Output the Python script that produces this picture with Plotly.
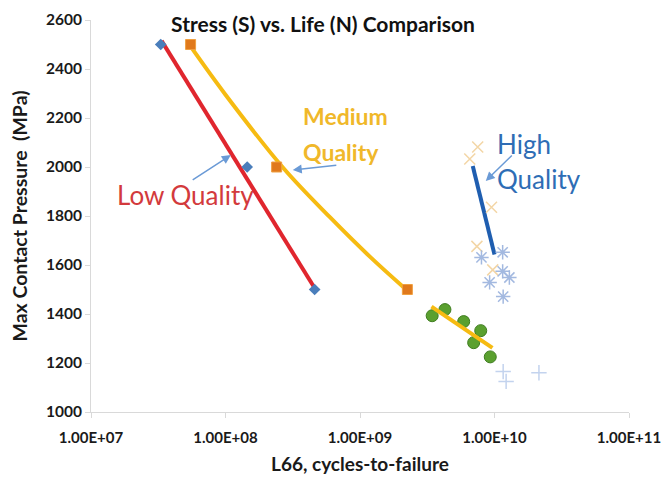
import numpy as np
import plotly.graph_objects as go

# ---------------- data ----------------
low_cycles = [3.3e7, 1.45e8, 4.6e8]
low_stress = [2500, 2000, 1500]
low_trend_cycles = [3.35e7, 4.55e8]
low_trend_stress = [2515, 1510]

med_cycles = [5.5e7, 2.4e8, 2.25e9]
med_stress = [2500, 2000, 1500]
med_trend_cycles = [5.5e7, 1.0e8, 2.7e8, 6.0e8, 1.2e9, 2.15e9]
med_trend_stress = [2492, 2295, 1995, 1794, 1631, 1505]

green_cycles = [3.44e9, 4.28e9, 5.9e9, 7.9e9, 7.0e9, 9.3e9]
green_stress = [1393, 1418, 1369, 1332, 1283, 1225]
green_trend_cycles = [3.4e9, 9.65e9]
green_trend_stress = [1430, 1262]

hq_x_cycles = [7.5e9, 6.55e9, 9.5e9, 7.4e9, 9.7e9]
hq_x_stress = [2082, 2033, 1836, 1676, 1580]
hq_ast_cycles = [1.15e10, 8.0e9, 1.15e10, 1.29e10, 9.2e9, 1.16e10]
hq_ast_stress = [1652, 1631, 1574, 1549, 1529, 1471]
hq_plus_cycles = [1.16e10, 1.22e10, 2.14e10]
hq_plus_stress = [1165, 1125, 1160]
high_trend_cycles = [6.89e9, 1.0e10]
high_trend_stress = [2004, 1643]

x_tick_vals = [1e7, 1e8, 1e9, 1e10, 1e11]
x_tick_text = ["1.00E+07", "1.00E+08", "1.00E+09", "1.00E+10", "1.00E+11"]
y_tick_vals = [1000, 1200, 1400, 1600, 1800, 2000, 2200, 2400, 2600]

FONT = "Lato"
fig = go.Figure()

# trend lines
fig.add_trace(go.Scatter(x=low_trend_cycles, y=low_trend_stress, mode="lines",
                         line=dict(color="#e0262e", width=4), hoverinfo="skip"))
fig.add_trace(go.Scatter(x=med_trend_cycles, y=med_trend_stress, mode="lines",
                         line=dict(color="#f6bb12", width=4, shape="spline"), hoverinfo="skip"))
fig.add_trace(go.Scatter(x=high_trend_cycles, y=high_trend_stress, mode="lines",
                         line=dict(color="#1f5eb0", width=4), hoverinfo="skip"))

# faint high-quality markers
fig.add_trace(go.Scatter(x=hq_x_cycles, y=hq_x_stress, mode="markers",
                         marker=dict(symbol="x-thin-open", size=11, color="#f3d6a6",
                                     line=dict(color="#f3d6a6", width=1.5))))
fig.add_trace(go.Scatter(x=hq_ast_cycles, y=hq_ast_stress, mode="markers",
                         marker=dict(symbol="asterisk-open", size=12, color="#a3b9e0",
                                     line=dict(color="#a3b9e0", width=1.5))))
fig.add_trace(go.Scatter(x=hq_plus_cycles, y=hq_plus_stress, mode="markers",
                         marker=dict(symbol="cross-thin-open", size=11, color="#c3d3ee",
                                     line=dict(color="#c3d3ee", width=1.5))))

# green points + trend
fig.add_trace(go.Scatter(x=green_cycles, y=green_stress, mode="markers",
                         marker=dict(symbol="circle", size=12, color="#5aa02f",
                                     line=dict(color="#3f7d20", width=1))))
fig.add_trace(go.Scatter(x=green_trend_cycles, y=green_trend_stress, mode="lines",
                         line=dict(color="#f6bb12", width=4), hoverinfo="skip"))

# low / medium points
fig.add_trace(go.Scatter(x=low_cycles, y=low_stress, mode="markers",
                         marker=dict(symbol="diamond", size=9, color="#4a7ebb")))
fig.add_trace(go.Scatter(x=med_cycles, y=med_stress, mode="markers",
                         marker=dict(symbol="square", size=10, color="#e0791c",
                                     line=dict(color="#f0a040", width=1))))

anns = [
    dict(x=7.70, y=1885, text="Low Quality", showarrow=False,
         font=dict(family=FONT, size=26, color="#d33a3c"), xanchor="center", yanchor="middle"),
    dict(x=8.56, y=2209, text="<b>Medium</b>", showarrow=False,
         font=dict(family=FONT, size=23, color="#f0b82a"), xanchor="left", yanchor="middle"),
    dict(x=8.56, y=2062, text="<b>Quality</b>", showarrow=False,
         font=dict(family=FONT, size=23, color="#f0b82a"), xanchor="left", yanchor="middle"),
    dict(x=10.0, y=2094, text="High", showarrow=False,
         font=dict(family=FONT, size=26, color="#2e6db5"), xanchor="left", yanchor="middle"),
    dict(x=10.0, y=1951, text="Quality", showarrow=False,
         font=dict(family=FONT, size=26, color="#2e6db5"), xanchor="left", yanchor="middle"),
]
arrows = [
    ((7.745, 1943), (8.04, 2049)),
    ((8.835, 2008), (8.50, 1988)),
    ((10.14, 2053), (9.935, 1943)),
]
for (tx, ty), (hx, hy) in arrows:
    anns.append(dict(x=hx, y=hy, ax=tx, ay=ty, xref="x", yref="y", axref="x", ayref="y",
                     text="", showarrow=True, arrowhead=2, arrowsize=1.2, arrowwidth=1.5,
                     arrowcolor="#6a9ad6"))

fig.update_layout(
    width=664, height=471,
    margin=dict(l=83, r=43, t=12, b=67),
    paper_bgcolor="white", plot_bgcolor="white",
    showlegend=False,
    font=dict(family=FONT, color="#1a1a1a"),
    title=dict(text="<b>Stress (S) vs. Life (N) Comparison</b>", x=0.4744, y=0.964,
               xref="container", yref="container", xanchor="center", yanchor="middle",
               font=dict(family=FONT, size=21, color="#111111")),
    annotations=anns,
)
fig.update_xaxes(type="log", range=[7, 11], tickvals=x_tick_vals, ticktext=x_tick_text,
                 showgrid=False, showline=True, linecolor="#d9d9d9", linewidth=1,
                 ticks="outside", ticklen=5, tickcolor="#d9d9d9", automargin=False,
                 ticklabelstandoff=7,
                 tickfont=dict(family=FONT, size=15, color="#1a1a1a", weight="bold"),
                 title=dict(text="<b>L66, cycles-to-failure</b>", standoff=12,
                            font=dict(family=FONT, size=19, color="#1a1a1a")),
                 zeroline=False)
fig.update_yaxes(range=[1000, 2600], tickvals=y_tick_vals,
                 showgrid=False, showline=True, linecolor="#d9d9d9", linewidth=1,
                 ticks="outside", ticklen=5, tickcolor="#d9d9d9", automargin=False,
                 tickfont=dict(family=FONT, size=15.5, color="#1a1a1a", weight="bold"),
                 title=dict(text="<b>Max Contact Pressure  (MPa)</b>", standoff=15,
                            font=dict(family=FONT, size=19.5, color="#1a1a1a")),
                 zeroline=False)

fig.write_html("out.html")
